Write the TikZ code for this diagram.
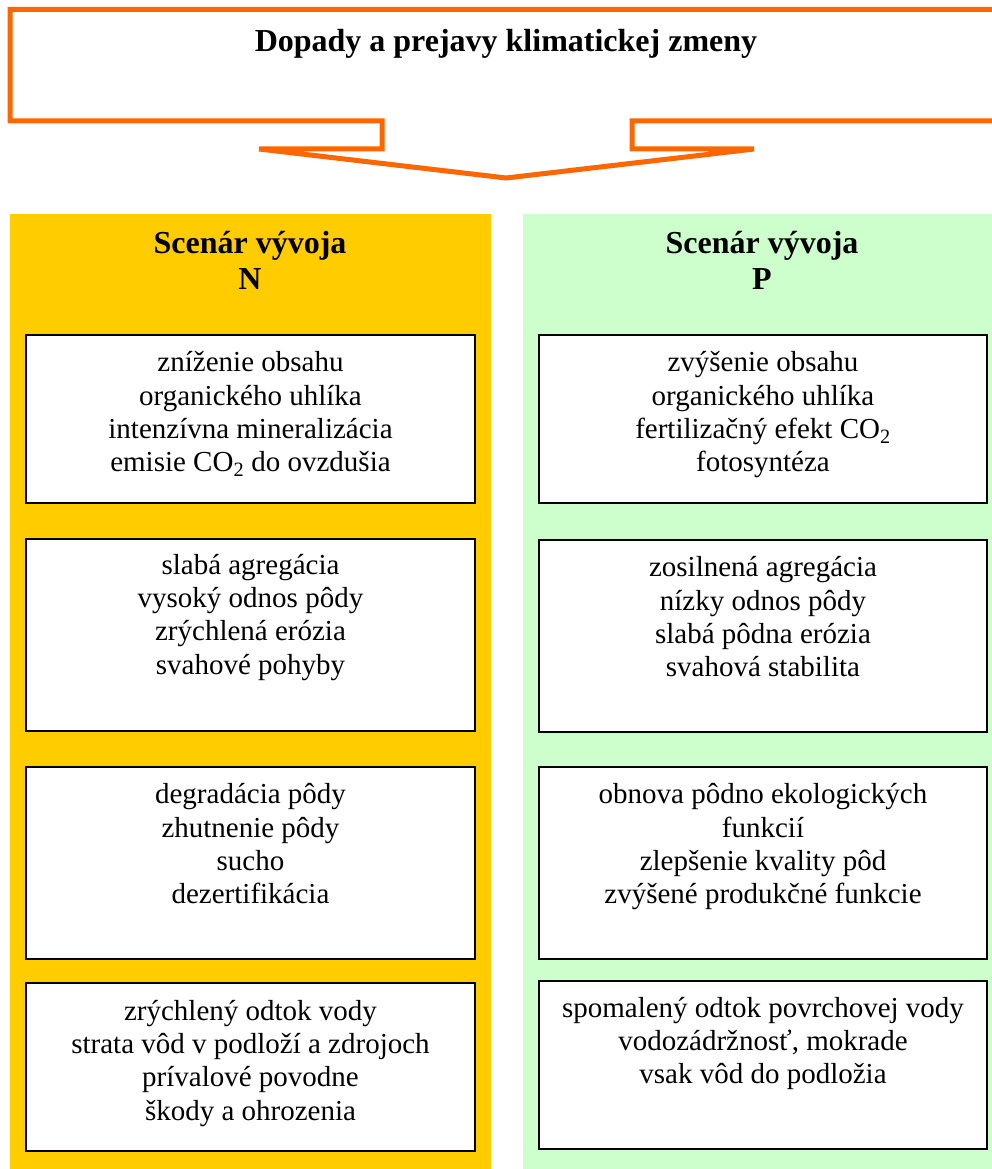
\documentclass[tikz,border=0pt]{standalone}
\usepackage{fontspec}
\setmainfont{Liberation Serif}
\definecolor{calloutorange}{HTML}{FF6600}
\definecolor{panelyellow}{HTML}{FFCC00}
\definecolor{panelgreen}{HTML}{CCFFCC}
\begin{document}
\begin{tikzpicture}[x=1pt,y=-1pt,
  itembox/.style={draw=black, line width=2pt, fill=white, inner sep=0pt, anchor=north west, minimum width=449pt},
  itemtext/.style={anchor=north, align=center, inner sep=0pt, font=\fontsize{29}{33.3}\selectfont},
  paneltitle/.style={anchor=north, align=center, inner sep=0pt, font=\bfseries\fontsize{32}{36}\selectfont},
  callout/.style={draw=calloutorange, line width=5pt, miter limit=10}]
\useasboundingbox (0,0) rectangle (992,1169);
\clip (0,0) rectangle (992,1169);

% callout with down arrow
\draw[callout] (1000,9.5) -- (10,9.5) -- (10,121) -- (382,121) -- (382,149) -- (259,149)
  -- (506,178) -- (754,149) -- (632,149) -- (632,121) -- (1000,121);
\node[anchor=base, inner sep=0pt, font=\bfseries\fontsize{32}{36}\selectfont] (title) at (506,52) {Dopady a prejavy klimatickej zmeny};

% panels
\fill[panelyellow] (10,214) rectangle (491,1172);
\fill[panelgreen] (523,214) rectangle (1001,1172);
\node[paneltitle] (tN) at (250,223) {\rule{0pt}{30pt}Scenár vývoja\\N};
\node[paneltitle] (tP) at (762,223) {\rule{0pt}{30pt}Scenár vývoja\\P};

% left column
\node[itembox, minimum height=168pt] (n1) at (25,334) {};
\node[itemtext] (n1t) at ([yshift=-9.5pt]n1.north) {\rule{0pt}{28pt}zníženie obsahu\\organického uhlíka\\intenzívna mineralizácia\\emisie CO\textsubscript{2} do ovzdušia};
\node[itembox, minimum height=192pt] (n2) at (25,538) {};
\node[itemtext] (n2t) at ([yshift=-8pt]n2.north) {\rule{0pt}{28pt}slabá agregácia\\vysoký odnos pôdy\\zrýchlená erózia\\svahové pohyby};
\node[itembox, minimum height=192pt] (n3) at (25,766) {};
\node[itemtext] (n3t) at ([yshift=-9.5pt]n3.north) {\rule{0pt}{28pt}degradácia pôdy\\zhutnenie pôdy\\sucho\\dezertifikácia};
\node[itembox, minimum height=168pt] (n4) at (25,982) {};
\node[itemtext] (n4t) at ([yshift=-10pt]n4.north) {\rule{0pt}{28pt}zrýchlený odtok vody\\strata vôd v podloží a zdrojoch\\prívalové povodne\\škody a ohrozenia};

% right column
\node[itembox, minimum width=448pt, minimum height=168pt] (p1) at (538,334) {};
\node[itemtext] (p1t) at ([yshift=-9.5pt]p1.north) {\rule{0pt}{28pt}zvýšenie obsahu\\organického uhlíka\\fertilizačný efekt CO\textsubscript{2}\\fotosyntéza};
\node[itembox, minimum width=448pt, minimum height=192pt] (p2) at (538,539) {};
\node[itemtext] (p2t) at ([yshift=-9.5pt]p2.north) {\rule{0pt}{28pt}zosilnená agregácia\\nízky odnos pôdy\\slabá pôdna erózia\\svahová stabilita};
\node[itembox, minimum width=448pt, minimum height=192pt] (p3) at (538,766) {};
\node[itemtext] (p3t) at ([yshift=-9.5pt]p3.north) {\rule{0pt}{28pt}obnova pôdno ekologických\\funkcií\\zlepšenie kvality pôd\\zvýšené produkčné funkcie};
\node[itembox, minimum width=448pt, minimum height=168pt] (p4) at (538,980) {};
\node[itemtext] (p4t) at ([yshift=-9pt]p4.north) {\rule{0pt}{28pt}spomalený odtok povrchovej vody\\vodozádržnosť, mokrade\\vsak vôd do podložia};
\end{tikzpicture}
\end{document}
